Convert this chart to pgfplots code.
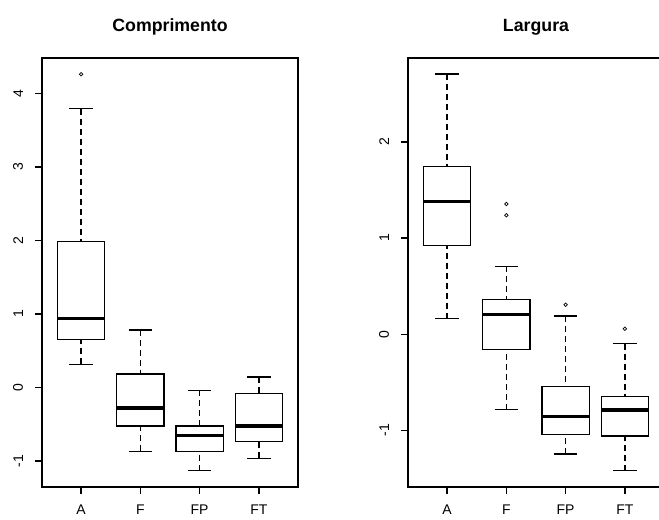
\documentclass[border=0pt]{standalone}
\usepackage{fontspec}
\setmainfont{Liberation Sans}
\usepackage{pgfplots}
\pgfplotsset{compat=1.18}
\usepgfplotslibrary{statistics}

\pgfplotsset{
  rbox/.style={
    scale only axis, width=192pt, height=321.75pt,
    xmin=0.34, xmax=4.66,
    xtick={1,2,3,4}, xticklabels={A,F,FP,FT},
    tick align=outside, major tick length=5.25pt,
    xtick pos=left, ytick pos=left,
    line width=0.95pt,
    every tick/.style={black, line width=0.95pt},
    tick label style={font=\fontsize{10.5}{12}\selectfont},
    /pgf/number format/assume math mode=true,
    yticklabel style={rotate=90, anchor=south, inner sep=0pt},
    xticklabel style={anchor=north, inner sep=0pt},
    yticklabel shift=8.5pt,
    xticklabel shift=8pt,
    title style={font=\bfseries\fontsize{13.3}{15}\selectfont, at={(0.5,1)}, anchor=base, yshift=13.9pt},
    boxplot/draw direction=y,
    boxplot/box extend=0.8, boxplot/whisker extend=0.4,
    boxplot/every median/.style={line width=2.6pt},
    boxplot/draw/lower whisker/.code={%
      \draw[dash pattern=on 4.5pt off 3pt] (boxplot box cs:\pgfplotsboxplotvalue{lower whisker},0.5) -- (boxplot box cs:\pgfplotsboxplotvalue{lower quartile},0.5);%
      \draw[solid] (boxplot whisker cs:\pgfplotsboxplotvalue{lower whisker},0) -- (boxplot whisker cs:\pgfplotsboxplotvalue{lower whisker},1);%
    },
    boxplot/draw/upper whisker/.code={%
      \draw[dash pattern=on 4.5pt off 3pt] (boxplot box cs:\pgfplotsboxplotvalue{upper whisker},0.5) -- (boxplot box cs:\pgfplotsboxplotvalue{upper quartile},0.5);%
      \draw[solid] (boxplot whisker cs:\pgfplotsboxplotvalue{upper whisker},0) -- (boxplot whisker cs:\pgfplotsboxplotvalue{upper whisker},1);%
    },
  },
  rplot/.style={black, solid, line width=0.95pt, mark=o, mark size=1.3pt, mark options={solid, line width=0.55pt}},
}

\begin{document}
\begin{tikzpicture}
\useasboundingbox (0,0) rectangle (494.25pt,390pt);
\clip (0,0) rectangle (494.25pt,390pt);

% ---------------- Comprimento ----------------
\begin{axis}[rbox, at={(31.5pt,24.75pt)}, anchor=south west,
  ymin=-1.353, ymax=4.481, ytick={-1,0,1,2,3,4},
  title={Comprimento}]
\addplot[rplot, boxplot prepared={draw position=1,
  lower whisker=0.316, lower quartile=0.656, median=0.936,
  upper quartile=1.99, upper whisker=3.79}]
  table[row sep=\\, y index=0] {4.26\\};
\addplot[rplot, boxplot prepared={draw position=2,
  lower whisker=-0.868, lower quartile=-0.524, median=-0.279,
  upper quartile=0.184, upper whisker=0.782}]
  coordinates {};
\addplot[rplot, boxplot prepared={draw position=3,
  lower whisker=-1.132, lower quartile=-0.868, median=-0.656,
  upper quartile=-0.524, upper whisker=-0.038}]
  coordinates {};
\addplot[rplot, boxplot prepared={draw position=4,
  lower whisker=-0.963, lower quartile=-0.737, median=-0.524,
  upper quartile=-0.079, upper whisker=0.143}]
  coordinates {};
\end{axis}

% ---------------- Largura ----------------
\begin{axis}[rbox, at={(306pt,24.75pt)}, anchor=south west,
  ymin=-1.590, ymax=2.874, ytick={-1,0,1,2},
  title={Largura}]
\addplot[rplot, boxplot prepared={draw position=1,
  lower whisker=0.161, lower quartile=0.921, median=1.383,
  upper quartile=1.743, upper whisker=2.708}]
  coordinates {};
\addplot[rplot, boxplot prepared={draw position=2,
  lower whisker=-0.786, lower quartile=-0.157, median=0.207,
  upper quartile=0.363, upper whisker=0.707}]
  table[row sep=\\, y index=0] {1.355\\ 1.237\\};
\addplot[rplot, boxplot prepared={draw position=3,
  lower whisker=-1.247, lower quartile=-1.046, median=-0.858,
  upper quartile=-0.542, upper whisker=0.189}]
  table[row sep=\\, y index=0] {0.307\\};
\addplot[rplot, boxplot prepared={draw position=4,
  lower whisker=-1.420, lower quartile=-1.059, median=-0.789,
  upper quartile=-0.646, upper whisker=-0.099}]
  table[row sep=\\, y index=0] {0.057\\};
\end{axis}
\end{tikzpicture}
\end{document}
